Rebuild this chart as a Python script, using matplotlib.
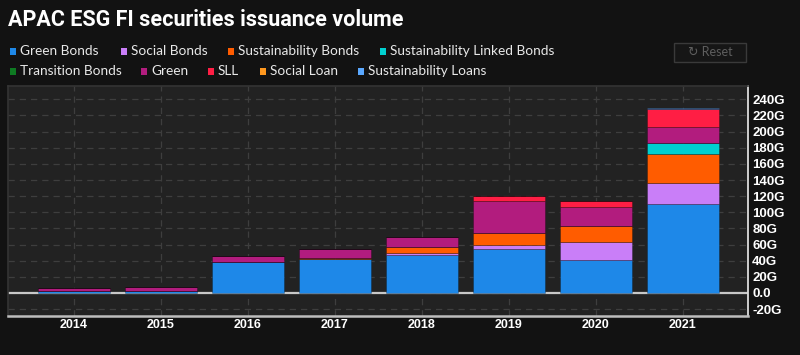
import numpy as np
import matplotlib
matplotlib.use("Agg")
import matplotlib.pyplot as plt
from matplotlib.patches import Rectangle
from matplotlib.ticker import FuncFormatter

# values in billions (G)
years = ["2014", "2015", "2016", "2017", "2018", "2019", "2020", "2021"]

green_bonds = [2.0, 3.0, 38.0, 42.0, 47.0, 54.5, 40.5, 110.0]
social_bonds = [0.0, 0.0, 0.0, 0.0, 2.5, 5.5, 22.5, 26.0]
sustainability_bonds = [0.0, 0.0, 0.8, 1.5, 7.0, 14.0, 20.0, 36.0]
sustainability_linked_bonds = [0.0, 0.0, 0.0, 0.0, 0.0, 0.0, 0.0, 13.5]
transition_bonds = [0.0, 0.0, 0.0, 0.0, 0.0, 0.0, 0.0, 0.0]
green = [4.2, 4.5, 7.0, 11.5, 12.8, 40.0, 23.5, 20.5]
sll = [0.0, 0.0, 0.0, 0.0, 0.0, 6.0, 7.5, 22.0]
social_loan = [0.0, 0.0, 0.0, 0.0, 0.0, 0.0, 0.0, 0.0]
sustainability_loans = [0.0, 0.0, 0.0, 0.0, 0.0, 0.0, 0.0, 1.5]

series_names = ["Green Bonds", "Social Bonds", "Sustainability Bonds",
                "Sustainability Linked Bonds", "Transition Bonds", "Green",
                "SLL", "Social Loan", "Sustainability Loans"]
series_values = [green_bonds, social_bonds, sustainability_bonds,
                 sustainability_linked_bonds, transition_bonds, green,
                 sll, social_loan, sustainability_loans]
colors = ["#1e88e8", "#c97ef8", "#ff5c00", "#00d0d0", "#0e7a22",
          "#b21c7e", "#ff1e44", "#ff981e", "#5aa8ff"]

fig_bg = "#121212"
ax_bg = "#222222"
txt = "#e8e8e8"

fig = plt.figure(figsize=(8.0, 3.55), dpi=100, facecolor=fig_bg)
ax = fig.add_axes([0.01, 0.1099, 0.925, 0.6478], facecolor=ax_bg)

x = np.arange(len(years))
bottom = np.zeros(len(years))
for name, vals, col in zip(series_names, series_values, colors):
    vals = np.array(vals)
    ax.bar(x, vals, width=0.83, bottom=bottom, color=col,
           edgecolor=(0, 0, 0, 0.25), linewidth=0.7, zorder=3)
    bottom += vals

ax.set_xlim(-0.76, 7.75)
ax.set_ylim(-28.5, 256.5)

# grid
ax.set_yticks(np.arange(-20, 241, 20))
ax.set_xticks(x, years)
ax.grid(True, color="#3e3e3e", linestyle=(0, (5, 4)), linewidth=0.9, zorder=0)
ax.axhline(0, color="#c8c8c8", linewidth=1.6, zorder=2.5)

ax.yaxis.tick_right()
ax.yaxis.set_major_formatter(FuncFormatter(lambda v, p: "0.0" if v == 0 else f"{int(v)}G"))
ax.tick_params(axis="y", length=0, pad=3, labelcolor="white", labelsize=9.5)
ax.tick_params(axis="x", length=0, pad=2, labelcolor="white", labelsize=9)
for lab in ax.get_yticklabels() + ax.get_xticklabels():
    lab.set_fontweight("bold")
    lab.set_family("Liberation Sans")

for s in ["top", "left"]:
    ax.spines[s].set_color("#343434")
    ax.spines[s].set_linewidth(1.2)
ax.spines["right"].set_color("#dddddd")
ax.spines["right"].set_linewidth(1.3)
ax.spines["bottom"].set_color("#bdbdbd")
ax.spines["bottom"].set_linewidth(1.8)

# title
fig.text(0.01, 0.945, "APAC ESG FI securities issuance volume", color="white",
         fontsize=15.5, fontweight="bold",
         family=["Roboto", "DejaVu Sans"], va="center", ha="left")

# legend (manual, two rows)
legend_pos = [(10, 51), (121, 51), (228, 51), (380, 51),
              (10, 71), (141, 71), (208, 71), (260, 71), (358, 71)]
for (px, py), name, col in zip(legend_pos, series_names, colors):
    fig.patches.append(Rectangle((px / 800, 1 - (py + 3.5) / 355), 6 / 800, 7 / 355,
                                 transform=fig.transFigure, facecolor=col,
                                 edgecolor="none"))
    fig.text((px + 10) / 800, 1 - py / 355, name, color=txt, fontsize=9.8,
             family=["Lato", "DejaVu Sans"], va="center", ha="left")

# reset button
fig.patches.append(Rectangle((674 / 800, 1 - 62 / 355), 72 / 800, 19 / 355,
                             transform=fig.transFigure, facecolor="#161616",
                             edgecolor="#3a3a3a", linewidth=1))
fig.text(710 / 800, 1 - 52.5 / 355, "\u21bb Reset", color="#5e5e5e", fontsize=9,
         family=["Lato", "DejaVu Sans"], va="center", ha="center")

fig.savefig("out.png", dpi=100, facecolor=fig_bg)
